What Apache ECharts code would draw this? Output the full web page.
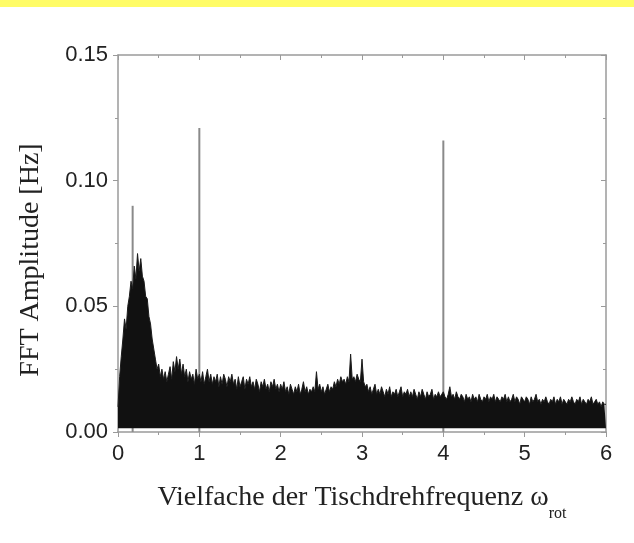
<!DOCTYPE html>
<html>
<head>
<meta charset="utf-8">
<script src="https://cdn.jsdelivr.net/npm/echarts@6/dist/echarts.min.js"></script>
<style>
  html, body { margin: 0; padding: 0; background: #fff; }
  #fft_chart { width: 634px; height: 543px; }
</style>
</head>
<body>
<div id="fft_chart"></div>
<script>
  // FFT bin spacing (multiples of table rotation frequency)
  const binStep = 0.02
  // upper envelope of the spectrum, one value per bin from 0 to 6
  const ampTop = [
    0.010, 0.022, 0.030, 0.037, 0.045, 0.041, 0.050, 0.054, 0.060, 0.057,
    0.066, 0.061, 0.071, 0.064, 0.069, 0.062, 0.060, 0.054, 0.053, 0.046,
    0.043, 0.037, 0.033, 0.029, 0.025, 0.027, 0.022, 0.025, 0.021, 0.024,
    0.020, 0.023, 0.026, 0.021, 0.028, 0.024, 0.030, 0.025, 0.029, 0.023,
    0.027, 0.022, 0.025, 0.020, 0.024, 0.021, 0.023, 0.019, 0.025, 0.021,
    0.023, 0.020, 0.024, 0.019, 0.022, 0.025, 0.020, 0.023, 0.019, 0.022,
    0.020, 0.023, 0.018, 0.022, 0.019, 0.023, 0.021, 0.018, 0.022, 0.020,
    0.023, 0.019, 0.021, 0.017, 0.022, 0.018, 0.020, 0.022, 0.017, 0.021,
    0.019, 0.022, 0.018, 0.020, 0.017, 0.021, 0.019, 0.016, 0.020, 0.018,
    0.021, 0.017, 0.019, 0.016, 0.020, 0.018, 0.021, 0.017, 0.019, 0.016,
    0.019, 0.017, 0.020, 0.016, 0.018, 0.015, 0.019, 0.017, 0.015, 0.018,
    0.016, 0.019, 0.015, 0.017, 0.020, 0.016, 0.018, 0.015, 0.017, 0.016,
    0.018, 0.016, 0.024, 0.017, 0.019, 0.016, 0.018, 0.015, 0.017, 0.019,
    0.016, 0.018, 0.017, 0.020, 0.018, 0.021, 0.019, 0.022, 0.020, 0.021,
    0.019, 0.022, 0.020, 0.031, 0.021, 0.022, 0.020, 0.023, 0.021, 0.020,
    0.029, 0.020, 0.018, 0.019, 0.016, 0.018, 0.015, 0.017, 0.019, 0.015,
    0.017, 0.015, 0.018, 0.016, 0.014, 0.017, 0.015, 0.018, 0.014, 0.016,
    0.015, 0.017, 0.014, 0.016, 0.018, 0.014, 0.016, 0.015, 0.017, 0.014,
    0.016, 0.014, 0.017, 0.015, 0.013, 0.016, 0.014, 0.017, 0.015, 0.013,
    0.016, 0.014, 0.015, 0.017, 0.013, 0.015, 0.014, 0.016, 0.014, 0.015,
    0.016, 0.014, 0.013, 0.015, 0.018, 0.014, 0.015, 0.013, 0.016, 0.014,
    0.013, 0.015, 0.014, 0.012, 0.015, 0.013, 0.014, 0.012, 0.015, 0.013,
    0.014, 0.012, 0.015, 0.013, 0.012, 0.014, 0.013, 0.015, 0.012, 0.014,
    0.013, 0.015, 0.012, 0.014, 0.013, 0.012, 0.014, 0.013, 0.015, 0.012,
    0.014, 0.012, 0.013, 0.015, 0.012, 0.014, 0.013, 0.011, 0.014, 0.013,
    0.012, 0.014, 0.013, 0.011, 0.014, 0.012, 0.013, 0.015, 0.012, 0.013,
    0.011, 0.013, 0.012, 0.014, 0.012, 0.011, 0.013, 0.012, 0.014, 0.011,
    0.013, 0.012, 0.014, 0.011, 0.013, 0.012, 0.011, 0.013, 0.012, 0.014,
    0.012, 0.011, 0.013, 0.012, 0.014, 0.011, 0.013, 0.012, 0.011, 0.013,
    0.012, 0.014, 0.011, 0.012, 0.013, 0.011, 0.012, 0.010, 0.012, 0.011,
    0.011
  ]
  // isolated sharp lines
  const peakFreq = [0.18, 1, 4]
  const peakAmp = [0.090, 0.121, 0.116]
  const xTicks = [0, 1, 2, 3, 4, 5, 6]
  const yTicks = [0, 0.05, 0.10, 0.15]

  let spectrum = ampTop.map(function (v, i) { return [+(i * binStep).toFixed(2), v] })
  let peaks = peakFreq.map(function (f, i) { return [f, peakAmp[i]] })

  let axisGray = '#9a9a9a'
  let labelFont = '"Liberation Sans", Arial, sans-serif'
  let titleFont = '"Liberation Serif", "Times New Roman", serif'

  // shared frame look, all four sides
  function frameAxis (pos, inside) {
    return {
      type: 'value', position: pos,
      axisLine: { show: true, onZero: false, lineStyle: { color: axisGray, width: 1.5 } },
      axisTick: { show: true, inside: inside, length: 5, lineStyle: { color: axisGray } },
      minorTick: { show: true, splitNumber: 2, length: 3, lineStyle: { color: axisGray } },
      splitLine: { show: false },
      axisLabel: { show: false }
    }
  }

  let xBottom = frameAxis('bottom', false)
  let xTop = frameAxis('top', true)
  let yLeft = frameAxis('left', false)
  let yRight = frameAxis('right', true)
  ;[xBottom, xTop].forEach(function (a) { a.min = xTicks[0]; a.max = xTicks[xTicks.length - 1]; a.interval = 1 })
  ;[yLeft, yRight].forEach(function (a) { a.min = yTicks[0]; a.max = yTicks[yTicks.length - 1]; a.interval = 0.05 })

  xBottom.axisLabel = { show: true, color: '#222', fontSize: 22, fontFamily: labelFont, margin: 11 }
  xBottom.name = '{a|Vielfache der Tischdrehfrequenz ω}{s|rot}'
  xBottom.nameLocation = 'middle'
  xBottom.nameGap = 52
  xBottom.nameTextStyle = {
    rich: {
      a: { fontSize: 28, fontFamily: titleFont, color: '#222', lineHeight: 30, verticalAlign: 'top' },
      s: { fontSize: 16, fontFamily: titleFont, color: '#222', lineHeight: 18, padding: [22, 0, 0, 0], verticalAlign: 'top' }
    }
  }
  yLeft.axisLabel = {
    show: true, color: '#222', fontSize: 22, fontFamily: labelFont, margin: 10,
    formatter: function (v) { return v.toFixed(2) }
  }

  let myChart = echarts.init(document.getElementById('fft_chart'))
  let option = {
    animation: false,
    backgroundColor: '#fff',
    grid: { left: 118, right: 28, top: 55, bottom: 111 },
    graphic: [
      { type: 'rect', left: 0, top: 0, shape: { width: 634, height: 7 }, style: { fill: '#fffc66' } },
      {
        type: 'text', x: 31, y: 260, rotation: Math.PI / 2,
        style: { text: 'FFT Amplitude [Hz]', font: '28px ' + titleFont, fill: '#222', textAlign: 'center', textVerticalAlign: 'middle' }
      }
    ],
    xAxis: [xBottom, xTop],
    yAxis: [yLeft, yRight],
    series: [{
      name: 'lines',
      type: 'bar',
      xAxisIndex: 0, yAxisIndex: 0,
      barWidth: 2,
      silent: true,
      itemStyle: { color: '#8a8a8a' },
      data: peaks
    }, {
      name: 'spectrum',
      type: 'line',
      xAxisIndex: 0, yAxisIndex: 0,
      showSymbol: false,
      silent: true,
      lineStyle: { color: '#1c1c1c', width: 1 },
      areaStyle: { color: '#111', opacity: 1, origin: 0.0015 },
      data: spectrum
    }]
  }
  myChart.setOption(option)
</script>
</body>
</html>
